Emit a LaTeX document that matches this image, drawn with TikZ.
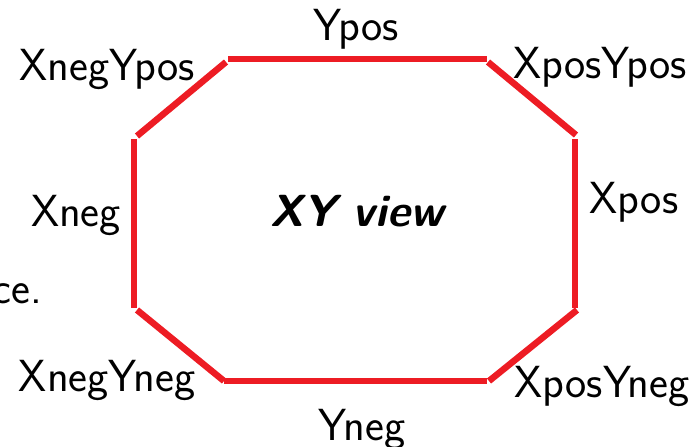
\documentclass[tikz,border=0pt]{standalone}
\begin{document}
\begin{tikzpicture}[x=1pt,y=-1pt,
  edge/.style={draw={rgb,255:red,237;green,28;blue,36},line width=6.5pt,line cap=butt},
  lbl/.style={anchor=base,inner sep=0pt,font=\sffamily\fontsize{45}{52}\selectfont},
  title/.style={anchor=base,inner sep=0pt,font=\sffamily\bfseries\itshape\fontsize{45}{52}\selectfont}]
\useasboundingbox (0,0) rectangle (696,447);
% corner coordinates
\coordinate (t1) at (228,59);  \coordinate (t2) at (487,59);
\coordinate (a1) at (226,62);  \coordinate (a2) at (137,136);
\coordinate (l1) at (134,139); \coordinate (l2) at (134,308);
\coordinate (b1) at (137,310); \coordinate (b2) at (224,381);
\coordinate (c1) at (224,381); \coordinate (c2) at (487,381);
\coordinate (d1) at (489,381); \coordinate (d2) at (577,310);
\coordinate (r1) at (575,308); \coordinate (r2) at (575,139);
\coordinate (e1) at (576,135); \coordinate (e2) at (488,62);
\draw[edge] (t1) -- (t2);
\draw[edge] (a1) -- (a2);
\draw[edge] (l1) -- (l2);
\draw[edge] (b1) -- (b2);
\draw[edge] (c1) -- (c2);
\draw[edge] (d1) -- (d2);
\draw[edge] (r1) -- (r2);
\draw[edge] (e1) -- (e2);
\node[lbl] (ypos) at (356,40) {Ypos};
\node[lbl] (xnypos) at (107,80) {XnegYpos};
\node[lbl] (xpypos) at (600,78) {XposYpos};
\node[lbl] (xneg) at (76,226) {Xneg};
\node[lbl] (xpos) at (634,213) {Xpos};
\node[title] (view) at (357,226) {XY view};
\node[lbl,anchor=base east] (ce) at (42,303) {ce.};
\node[lbl] (xnyneg) at (107,391) {XnegYneg};
\node[lbl] (yneg) at (362,440) {Yneg};
\node[lbl] (xpyneg) at (602,397) {XposYneg};
\end{tikzpicture}
\end{document}
